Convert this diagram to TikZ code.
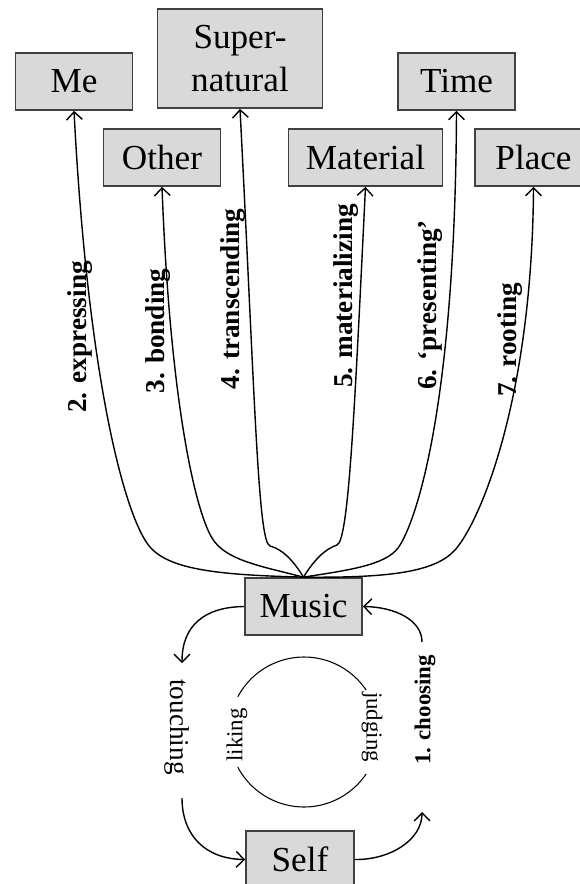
\documentclass[tikz,border=0pt]{standalone}
\usepackage{fontspec}
\setmainfont{Liberation Serif}
\usetikzlibrary{arrows.meta}
\tikzset{
    concept/.style={
        rectangle,
        draw=black!75,
        line width=1pt,
        fill=black!15,
        inner sep=0pt,
        minimum width=2.34cm,
        minimum height=1.14cm,
        align=center,
        font=\fontsize{20}{24}\selectfont,
    },
    role/.style={
        font=\fontsize{15.5}{17}\selectfont\bfseries,
        rotate=90,
        inner sep=0pt,
    },
    act/.style={
        font=\fontsize{15.5}{17}\selectfont,
        inner sep=0pt,
    },
    link/.style={
        draw,
        ->,>={Straight Barb[length=4.5pt,width=9pt]},
        line width=0.8pt,
    },
}
\begin{document}
\begin{tikzpicture}[x=0.02cm,y=-0.02cm]
\useasboundingbox (0,0) rectangle (580,884);
% the six relations
\node[concept] (Me) at (74,81.5) {Me};
\node[concept,minimum width=3.3cm,minimum height=1.98cm] (Super) at (240,58.5) {Super-\\natural};
\node[concept] (Time) at (456.5,81.5) {Time};
\node[concept] (Other) at (162,157.5) {Other};
\node[concept,minimum width=3.08cm] (Material) at (365.5,157.5) {Material};
\node[concept] (Place) at (533.5,157.5) {Place};
\node[concept] (Music) at (303.5,606.5) {Music};
\node[concept,minimum width=2.16cm] (Self) at (300,859.5) {Self};

% fan out of Music
\draw[link] (Music.north) .. controls (220,575) and (170,570) .. (150,547)
    .. controls (125,518) and (88,380) .. (Me.south);
\draw[link] (Music.north) .. controls (260,566) and (225,560) .. (212,538)
    .. controls (195,510) and (170,400) .. (Other.south);
\draw[link] (Music.north) .. controls (293,560) and (282,549) .. (270,546)
    .. controls (258,543) and (255,400) .. (Super.south);
\draw[link] (Music.north) .. controls (314,560) and (325,549) .. (337,545)
    .. controls (349,541) and (355,400) .. (Material.south);
\draw[link] (Music.north) .. controls (350,570) and (385,565) .. (398,548)
    .. controls (413,528) and (455,420) .. (Time.south);
\draw[link] (Music.north) .. controls (390,578) and (435,572) .. (455,550)
    .. controls (480,522) and (532,400) .. (Place.south);

\node[role] (L2) at (80,337) {2. expressing};
\node[role] (L3) at (158,331) {3. bonding};
\node[role] (L4) at (233,299) {4. transcending};
\node[role] (L5) at (346,296) {5. materializing};
\node[role] (L6) at (430,305) {6. ‘presenting’};
\node[role] (L7) at (510,340) {7. rooting};

% loop between Music and Self
\coordinate (touch-in) at (182,663);
\coordinate (touch-out) at (182,798);
\coordinate (choose-in) at (422,812);
\coordinate (choose-out) at (422,642);
\draw[link] (Music.west) .. controls (205,607) and (182,625) .. (touch-in);
\draw[link] (touch-out) .. controls (182,835) and (205,859) .. (Self.west);
\draw[link] (Self.east) .. controls (390,860) and (422,840) .. (choose-in);
\draw[link] (choose-out) .. controls (422,620) and (395,607) .. (Music.east);

\node[act,rotate=-90] (touch) at (177,727) {touching};
\node[role,font=\fontsize{13}{15}\selectfont\bfseries] (L1) at (425,710) {1. choosing};

% inner circle
\coordinate (hub) at (304,732);
\draw[line width=0.6pt] ([shift={(152:1.5cm)}]hub) arc[start angle=152,end angle=34,radius=1.5cm];
\draw[line width=0.6pt] ([shift={(208:1.5cm)}]hub) arc[start angle=208,end angle=326,radius=1.5cm];
\node[act,rotate=90,font=\fontsize{13}{15}\selectfont] (like) at (237,735) {liking};
\node[act,rotate=-90,font=\fontsize{13}{15}\selectfont] (judge) at (372,727) {judging};
\end{tikzpicture}
\end{document}
